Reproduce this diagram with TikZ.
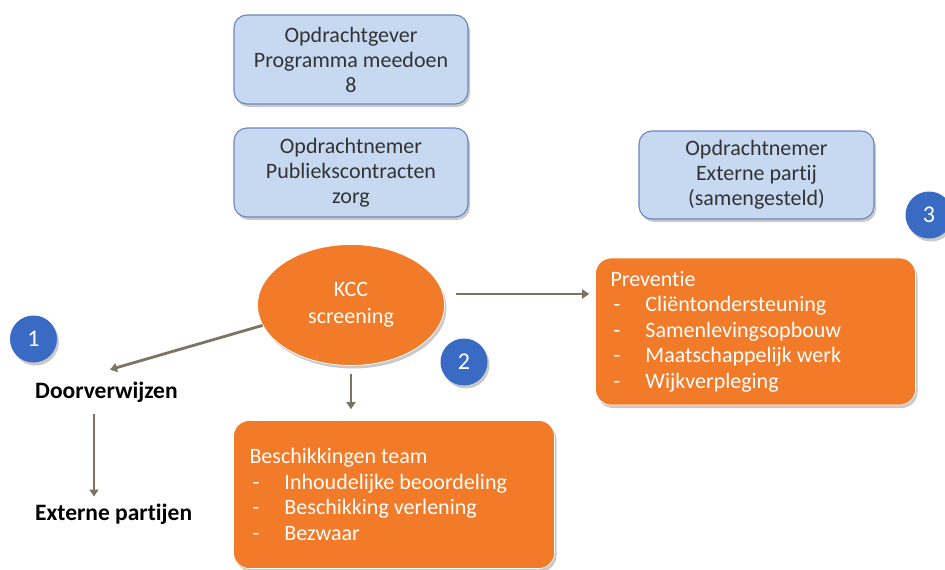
\documentclass[tikz,border=0pt]{standalone}
\usepackage{fontspec}
\setmainfont{Carlito}[Ligatures={NoCommon}]
\usetikzlibrary{arrows.meta,shapes.geometric,shadows,calc}
\definecolor{boxblue}{HTML}{C6D9F1}
\definecolor{boxline}{HTML}{6A86BC}
\definecolor{orangefill}{HTML}{F27B29}
\definecolor{badge}{HTML}{3A6BC4}
\definecolor{arrowgray}{HTML}{7A7462}
\definecolor{textgray}{HTML}{333333}
\tikzset{
  x=1pt, y=1pt,
  softshadow/.style={drop shadow={shadow xshift=2pt, shadow yshift=-3pt, opacity=0.35, fill=black!60}},
  rolebox/.style={draw=boxline, line width=1.1pt, fill=boxblue, rounded corners=13pt,
    minimum width=234pt, minimum height=89pt, align=center, text=textgray,
    font=\fontsize{22}{25}\selectfont, softshadow},
  taskbox/.style={draw=white, line width=0.6pt, fill=orangefill, rounded corners=16pt,
    align=flush left, text=white, font=\fontsize{22}{25.5}\selectfont, inner xsep=15pt, softshadow},
  kccshape/.style={ellipse, draw=white, line width=0.8pt, fill=orangefill, text=white,
    minimum width=187pt, minimum height=121pt, align=center,
    font=\fontsize{22}{27}\selectfont, softshadow},
  badgenum/.style={circle, fill=badge, text=white, minimum size=47pt, inner sep=0pt,
    font=\fontsize{24}{24}\selectfont, softshadow},
  steplabel/.style={anchor=west, font=\bfseries\fontsize{23.5}{23.5}\selectfont, text=black, inner xsep=0pt},
  flow/.style={draw=arrowgray, line width=2.8pt, -{Triangle[length=7pt,width=9pt]}},
}
\newcommand{\itemline}[1]{\makebox[35pt][l]{\hspace{3pt}-}#1}
\begin{document}
\begin{tikzpicture}
\useasboundingbox (0,0) rectangle (945,-570);
\fill[white] (0,0) rectangle (945,-570);

% client and contractor boxes
\node[rolebox] (gever) at (351,-59.5) {Opdrachtgever\\Programma meedoen\\8};
\node[rolebox] (nemer) at (351,-172.5) {Opdrachtnemer\\Publiekscontracten\\zorg};
\node[rolebox, minimum width=235pt, minimum height=88pt] (extern) at (756.5,-175) {Opdrachtnemer\\Externe partij\\(samengesteld)};

% screening
\node[kccshape] (kcc) at (351,-305) {KCC\\screening};

% task boxes
\node[taskbox, minimum width=320pt, minimum height=147pt, text width=290pt] (prev) at (755.5,-331.5)
  {Preventie\\\itemline{Cliëntondersteuning}\\\itemline{Samenlevingsopbouw}\\\itemline{Maatschappelijk werk}\\\itemline{Wijkverpleging}};
\node[taskbox, minimum width=321pt, minimum height=148pt, text width=289pt, inner xsep=16pt] (besch) at (394,-494.5)
  {Beschikkingen team\\\itemline{Inhoudelijke beoordeling}\\\itemline{Beschikking verlening}\\\itemline{Bezwaar}};

% referral route
\node[steplabel, inner ysep=12pt] (doorv) at (35,-392) {Doorverwijzen};
\node[steplabel, inner ysep=7pt] (extp) at (35,-514) {Externe partijen};

% numbered badges
\node[badgenum] (b1) at (33.5,-339) {1};
\node[badgenum] (b2) at (464,-362) {2};
\node[badgenum] (b3) at (929,-215) {3};

% connectors
\coordinate (kccR) at ($(kcc.east)+(11,11)$);
\coordinate (dvTop) at ($(doorv.north west)+(75,0)$);
\coordinate (dvBot) at ($(doorv.south west)+(59,0)$);
\draw[flow] (kcc.193) -- (dvTop);
\draw[flow] (dvBot) -- (dvBot |- extp.north);
\draw[flow, shorten <=8pt, shorten >=11pt] (kcc.south) -- (kcc.south |- besch.north);
\draw[flow, shorten >=6pt] (kccR) -- (kccR -| prev.west);
\end{tikzpicture}
\end{document}
